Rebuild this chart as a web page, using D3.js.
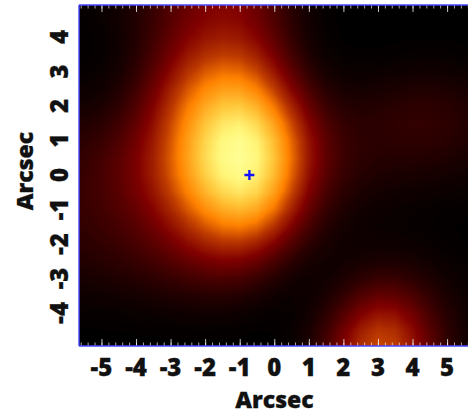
<!DOCTYPE html>
<html>
<head>
<meta charset="utf-8">
<script src="https://cdn.jsdelivr.net/npm/d3@7"></script>
<style>
html,body{margin:0;padding:0;background:#fff;overflow:hidden}
text{font-family:"Open Sans","Noto Sans",sans-serif;font-weight:800;fill:#111;stroke:#111;stroke-width:0.3px}
</style>
</head>
<body>
<svg id="c" width="468" height="415"></svg>
<script>
// Data
const gridX = [-6,-5.5,-5,-4.5,-4,-3.5,-3,-2.5,-2,-1.5,-1,-0.5,0,0.5,1,1.5,2,2.5,3,3.5,4,4.5,5,5.5,6];
const gridY = [5,4.5,4,3.5,3,2.5,2,1.5,1,0.5,0,-0.5,-1,-1.5,-2,-2.5,-3,-3.5,-4,-4.5,-5];
const levels = [
 [1,1,2,4,7,10,15,20,24,27,26,21,14,6,1,0,0,0,0,0,0,0,0,0,0],
 [1,0,1,2,5,9,16,22,26,28,27,23,15,6,1,0,0,0,0,0,0,0,0,0,0],
 [1,0,0,1,4,10,20,26,28,31,30,26,17,6,1,0,0,0,0,0,0,0,0,0,0],
 [1,0,0,1,5,12,22,30,35,39,40,33,21,8,2,0,0,0,0,0,1,1,1,0,0],
 [2,0,0,2,6,14,27,40,49,54,56,46,28,14,4,1,0,1,1,1,2,2,2,1,1],
 [2,1,1,4,9,18,32,49,58,63,66,57,40,22,9,4,3,3,4,5,6,6,6,4,3],
 [4,2,2,6,14,23,38,57,66,73,77,69,52,29,16,8,6,6,8,10,12,12,11,8,5],
 [6,5,6,10,18,26,40,60,74,94,100,92,67,42,22,13,8,8,9,11,12,12,11,8,5],
 [8,8,10,15,22,27,42,62,78,98,104,98,76,48,25,16,10,8,8,10,10,10,9,7,4],
 [9,9,12,17,24,30,45,65,81,100,106,100,80,49,26,16,10,8,7,7,7,7,6,5,3],
 [9,10,13,19,25,31,45,65,81,98,104,98,78,45,24,15,10,7,6,5,5,4,4,3,2],
 [9,11,13,17,22,28,40,56,67,82,95,89,68,38,20,11,7,4,3,3,2,2,2,1,1],
 [9,11,13,15,18,23,32,46,58,66,74,76,58,29,15,7,4,2,1,1,0,0,0,0,0],
 [8,10,11,13,16,20,27,37,47,53,56,55,37,22,10,4,3,1,1,1,1,1,0,0,0],
 [7,8,10,11,13,17,21,27,34,39,38,35,23,12,6,3,2,1,2,2,2,1,1,0,0],
 [5,6,8,9,11,13,16,18,22,24,23,20,11,4,2,1,2,3,4,4,4,2,1,1,0],
 [4,5,5,6,7,9,10,12,14,15,14,10,4,1,0,1,3,6,8,8,6,4,2,1,1],
 [2,2,2,2,3,4,5,5,6,6,5,3,1,0,0,2,7,15,22,22,15,8,4,2,1],
 [1,1,1,1,1,1,1,2,2,2,1,0,0,0,2,5,15,26,38,36,24,11,6,3,1],
 [0,0,0,0,0,0,0,0,0,0,0,0,0,0,2,8,22,38,49,46,28,14,6,2,1],
 [0,0,0,0,0,0,0,0,0,0,0,0,0,0,3,11,30,46,56,54,34,17,7,2,1]
];
const xTickValues = [-5,-4,-3,-2,-1,0,1,2,3,4,5];
const yTickValues = [-4,-3,-2,-1,0,1,2,3,4];
const minorTickValues = d3.range(-28,29).map(d=>d/5);
const markerX = [-0.72];
const markerY = [0];
const colourLevels = [0,25,40,53,72,86,94];
const colourRamp = ["#000000","#800000","#be3c00","#ff8200","#ffc83c","#fff578","#ffff96"];
const xTitle = "Arcsec";
const yTitle = "Arcsec";

const L=79,R=473,T=5,B=346;
const x=d3.scaleLinear().domain([-5.65,5.75]).range([L,R]);
const y=d3.scaleLinear().domain([4.93,-4.96]).range([T,B]);
const colour=d3.scaleLinear().domain(colourLevels).range(colourRamp).clamp(true);
const svg=d3.select("#c");
svg.append("defs").append("clipPath").attr("id","p").append("rect")
   .attr("x",L).attr("y",T).attr("width",R-L).attr("height",B-T);
const plot=svg.append("g").attr("clip-path","url(#p)");
plot.append("rect").attr("x",L).attr("y",T).attr("width",R-L).attr("height",B-T).attr("fill","#000");

// filled level bands through d3.contours, mapped from grid index space to the data scales
const n=gridX.length,m=gridY.length;
const ix=d3.scaleLinear().domain([0.5,n-0.5]).range([gridX[0],gridX[n-1]]);
const iy=d3.scaleLinear().domain([0.5,m-0.5]).range([gridY[0],gridY[m-1]]);
const path=d3.geoPath(d3.geoTransform({point(a,b){this.stream.point(x(ix(a)),y(iy(b)));}}));
const thresholds=d3.range(0.5,106,0.5);
const field=Float64Array.from(levels.flat());
if(d3.blur2) d3.blur2({data:field,width:n},0.45);
const bands=d3.contours().size([n,m]).smooth(true).thresholds(thresholds)(Array.from(field));
plot.selectAll("path.band").data(bands).join("path").attr("class","band")
    .attr("d",path).attr("fill",d=>colour(d.value+0.25));

// inner ticks
function ticks(g,axisGen,isMajor){ g.call(axisGen); g.select(".domain").remove();
  g.selectAll("line").attr("stroke","#fff").attr("stroke-width",1).attr("stroke-opacity",isMajor?0.75:0.65); g.selectAll("text").remove(); }
const major=d3.range(-6,7);
const axes=[
 [d3.axisBottom(x),`translate(0,${B})`],[d3.axisTop(x),`translate(0,${T})`],
 [d3.axisRight(y),`translate(${L},0)`],[d3.axisLeft(y),`translate(${R},0)`]
];
axes.forEach(([a,t])=>{
  ticks(plot.append("g").attr("transform",t),a.tickValues(minorTickValues).tickSize(-3.5),false);
  ticks(plot.append("g").attr("transform",t),a.tickValues(major).tickSize(-7),true);
});

// frame
[[L,T,R,T],[L,B,R,B],[L,T,L,B]].forEach(s=>svg.append("line")
  .attr("x1",s[0]).attr("y1",s[1]).attr("x2",s[2]).attr("y2",s[3])
  .attr("stroke","#4646ff").attr("stroke-width",1.4));

// marker
svg.selectAll("path.mark").data(markerX).join("path").attr("class","mark")
  .attr("d",(d,i)=>{const a=x(d),b=y(markerY[i]);return `M${a-5},${b}H${a+5}M${a},${b-5}V${b+5}`;})
  .attr("stroke","#1414ff").attr("stroke-width",2.4).attr("fill","none");

// tick labels
svg.append("g").selectAll("text").data(xTickValues).join("text")
  .attr("x",d=>x(d)).attr("y",367).attr("dy","0.36em").attr("text-anchor","middle")
  .attr("font-size",24).text(d=>d);
svg.append("g").selectAll("text").data(yTickValues).join("text")
  .attr("transform",d=>`translate(59,${y(d)}) rotate(-90)`).attr("dy","0.36em").attr("text-anchor","middle")
  .attr("font-size",24).text(d=>d);
svg.append("text").attr("x",274.5).attr("y",400).attr("dy","0.36em").attr("text-anchor","middle").attr("font-size",23).text(xTitle);
svg.append("text").attr("transform","translate(25,171) rotate(-90)").attr("dy","0.36em").attr("text-anchor","middle").attr("font-size",23).text(yTitle);
</script>
</body>
</html>
